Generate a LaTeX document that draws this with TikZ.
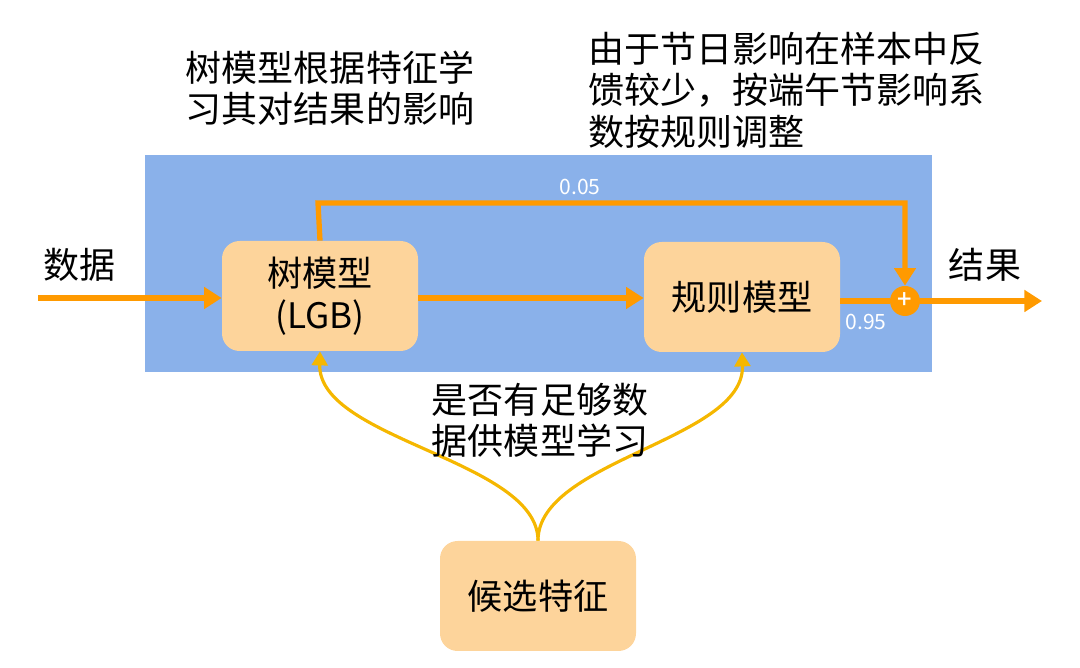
\documentclass[tikz,border=0pt]{standalone}
\usepackage{fontspec}
\setmainfont{Noto Sans CJK SC}[BoldFont={Noto Sans CJK SC Medium}]
\usetikzlibrary{arrows.meta}
\definecolor{bluebg}{HTML}{8AB1EA}
\definecolor{boxc}{HTML}{FDD49B}
\definecolor{org}{HTML}{FF9A00}
\definecolor{yel}{HTML}{F5B700}
\tikzset{
  box/.style={fill=boxc,rounded corners=10pt,draw=none,minimum width=196*0.02cm,minimum height=110*0.02cm,font=\fontsize{20}{24}\selectfont,align=center},
  oarr/.style={org,line width=3pt,-{Triangle[length=10pt,width=12pt]}},
  yarr/.style={yel,line width=1.8pt,-{Triangle[length=8pt,width=9pt]}},
  lbl/.style={font=\fontsize{20.5}{23.5}\selectfont,align=left},
  num/.style={white,font=\fontsize{12}{14}\selectfont}
}
\begin{document}
\begin{tikzpicture}[x=0.02cm,y=-0.02cm]
\useasboundingbox (0,0) rectangle (1080,668);
\fill[bluebg] (145,155) rectangle (932,372);
\node[box] (tree) at (320,296) {树模型\\(LGB)};
\node[box] (rule) at (742,297) {规则模型};
\node[box] (cand) at (538,596) {候选特征};
\node[circle,fill=org,minimum size=30*0.02cm,inner sep=0pt,text=white,font=\bfseries\Large] (plus) at (905,301) {+};
\coordinate (in) at (38,298);
\coordinate (out) at (1042,301);
\node[lbl] (data) at (80,265) {数据};
\node[lbl] (res) at (985,265) {结果};
\draw[oarr] (in) -- (tree.west|-in);
\draw[oarr] (tree.east|-in) -- (rule.west|-in);
\draw[org,line width=3pt] (rule.east|-plus) -- (plus);
\draw[oarr] (plus) -- (out);
\draw[oarr] (tree.north) -- (318,203) -- (905,203) -- (plus.north);
\node[num] (a) at (580,187) {0.05};
\node[num] (b) at (866,322) {0.95};
\draw[yarr] (cand.north) .. controls (538,460) and (318,440) .. (tree.south);
\draw[yarr] (cand.north) .. controls (538,460) and (745,440) .. (rule.south);
\node[lbl,align=left] (q) at (540,420) {是否有足够数\\据供模型学习};
\node[lbl] (t1) at (330,88) {树模型根据特征学\\习其对结果的影响};
\node[lbl,anchor=north west] (t2) at (582,26) {由于节日影响在样本中反\\馈较少，按端午节影响系\\数按规则调整};
\end{tikzpicture}
\end{document}
